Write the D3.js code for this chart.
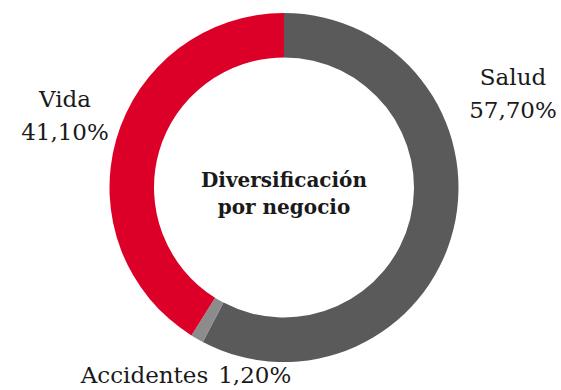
<!DOCTYPE html>
<html>
<head>
<meta charset="utf-8">
<script src="https://cdn.jsdelivr.net/npm/d3@7"></script>
<style>
  html, body { margin: 0; padding: 0; background: #fff; }
  svg { display: block; }
  text { font-family: "DejaVu Serif", "Liberation Serif", serif; fill: #1a1a1a; }
</style>
</head>
<body>
<svg id="chart" width="561" height="390"></svg>
<script>
// Business diversification shares (%)
const categories = ["Salud", "Accidentes", "Vida"];
const values = [57.7, 1.2, 41.1];
const valueLabels = ["57,70%", "1,20%", "41,10%"];
const colors = ["#5a5a5a", "#8c8c8c", "#dc0028"];
const title = ["Diversificación", "por negocio"];

const svg = d3.select("#chart");
const cx = 284, cy = 187.5;
const outerR = 174.5, innerR = 130;

const pie = d3.pie().sort(null).value(d => d.value);
const arc = d3.arc().innerRadius(innerR).outerRadius(outerR);
const data = categories.map((c, i) => ({ name: c, value: values[i], label: valueLabels[i], color: colors[i] }));

const g = svg.append("g").attr("transform", `translate(${cx},${cy})`);
g.selectAll("path")
  .data(pie(data))
  .join("path")
  .attr("d", arc)
  .attr("fill", d => d.data.color);

// Centre title
const t = svg.append("text")
  .attr("x", cx).attr("text-anchor", "middle")
  .style("font-weight", "bold").style("font-size", "20px");
t.selectAll("tspan").data(title).join("tspan")
  .attr("x", cx).attr("y", (d, i) => 187 + i * 27).text(d => d);

// Slice labels
const labelSpec = [
  { x: 513, y: 85, lines: [data[0].name, data[0].label] },
  { x: 65, y: 107, lines: [data[2].name, data[2].label] }
];
labelSpec.forEach(s => {
  const txt = svg.append("text").attr("text-anchor", "middle").style("font-size", "23px");
  txt.selectAll("tspan").data(s.lines).join("tspan")
    .attr("x", s.x).attr("y", (d, i) => s.y + i * 33).text(d => d);
});

// Small slice label sits below the ring on one line
const acc = svg.append("text").attr("x", 186).attr("y", 383)
  .attr("text-anchor", "middle").style("font-size", "23px");
acc.append("tspan").text(data[1].name);
acc.append("tspan").attr("dx", 10).text(data[1].label);
</script>
</body>
</html>
